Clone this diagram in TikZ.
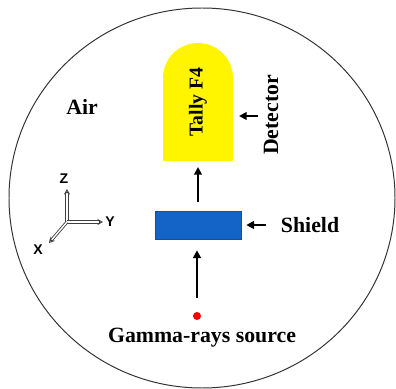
\documentclass[tikz,border=0pt]{standalone}
\usepackage{fontspec}
\setmainfont{Liberation Serif}
\newfontfamily\axisfont{Liberation Sans}
\usetikzlibrary{arrows.meta}
\definecolor{shieldblue}{RGB}{20,100,200}
\definecolor{tallyyellow}{RGB}{255,245,0}

\begin{document}
\begin{tikzpicture}[x=0.025cm, y=0.025cm, >={Triangle[length=5.5pt,width=5.5pt]},
    lbl/.style={font=\fontsize{15.5}{17}\selectfont\bfseries},
    flow/.style={->, line width=1.8pt},
    axis/.style={-{Stealth[length=4pt,width=4.5pt,open]}, draw=black!75, double=white, double distance=1pt, line width=0.6pt},
    axlbl/.style={font=\axisfont\fontsize{10}{11}\selectfont\bfseries}]
    \useasboundingbox (0,0) rectangle (396,389);

    % Air volume
    \draw[line width=0.7pt, black!80] (202,191) ellipse [x radius=193, y radius=190];
    \node[lbl] (air) at (82,282) {Air};

    % Detector (tally cell)
    \fill[tallyyellow] (163,228) -- (163,311) arc[start angle=180, end angle=0, radius=35] -- (233,228) -- cycle;
    \coordinate (det) at (198,228);
    \node[lbl, font=\fontsize{14}{16}\selectfont\bfseries, rotate=90] (tally) at (198,287) {Tally F4};
    \node[lbl, rotate=90] (detector) at (271,274) {Detector};
    \coordinate (detarr) at (258,273);
    \draw[flow] (detarr) -- (239,273);

    % Shield slab
    \node[draw=shieldblue!80!black, fill=shieldblue, line width=0.4pt, minimum width=86*0.025cm, minimum height=28*0.025cm, inner sep=0pt] (shield) at (198,164) {};
    \node[lbl, anchor=west] (shieldtxt) at (276,164) {Shield};
    \coordinate (shieldarr) at (266,164);
    \draw[flow] (shieldarr) -- ([xshift=5*0.025cm]shield.east);

    % Gamma-rays source
    \node[circle, fill=red, inner sep=0pt, minimum size=8*0.025cm] (src) at (197,73) {};
    \node[lbl] (srctxt) at (202,51) {Gamma-rays source};
    \draw[flow, shorten <=14*0.025cm, shorten >=11*0.025cm] (src) -- (src |- shield.south);
    \draw[flow, shorten <=9*0.025cm, shorten >=6*0.025cm] (shield.north) -- (det);

    % Coordinate axes
    \coordinate (o) at (67,167);
    \node[axlbl] (zl) at (64,210) {Z};
    \node[axlbl] (yl) at (110,167) {Y};
    \node[axlbl] (xl) at (38,139) {X};
    \draw[axis] (o) -- (67,200);
    \draw[axis] (o) -- (103,167);
    \draw[axis] (o) -- (49,146);
\end{tikzpicture}
\end{document}
